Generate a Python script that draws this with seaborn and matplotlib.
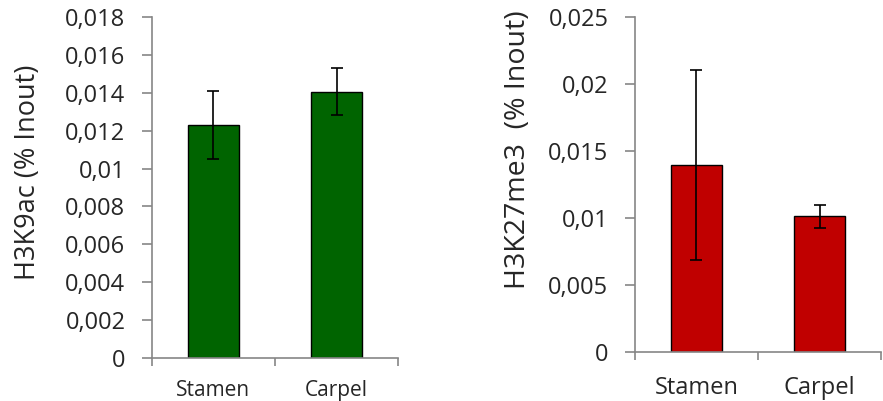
import matplotlib
matplotlib.use("Agg")
import matplotlib.pyplot as plt
import seaborn as sns
from matplotlib.ticker import FuncFormatter, FixedLocator

# data
samples = ["Stamen", "Carpel"]
h3k9ac = [0.0123, 0.01406]
h3k9ac_err = [0.0018, 0.00125]
h3k27me3 = [0.0140, 0.01015]
h3k27me3_err = [0.0071, 0.00085]

sns.set_style("white")
plt.rcParams['font.family'] = ['Open Sans', 'DejaVu Sans']

axis_grey = "#868686"

def comma_fmt(v, pos):
    if abs(v) < 1e-12:
        return "0"
    return f"{v:g}".replace(".", ",")

fig = plt.figure(figsize=(8.83, 4.01), dpi=100)
ax1 = fig.add_axes([0.172, 0.107, 0.279, 0.851])
ax2 = fig.add_axes([0.719, 0.1215, 0.279, 0.8355])

# ax, values, errors, colour, label, ymax, step, xtick size, xtick pad, label size, label y, label pad
panels = [
    (ax1, h3k9ac, h3k9ac_err, "#006400", "H3K9ac (% Inout)", 0.018, 0.002, 15, 16, 19.5, 0.545, 17),
    (ax2, h3k27me3, h3k27me3_err, "#C00000", "H3K27me3  (% Inout)", 0.025, 0.005, 17, 17, 20.5, 0.604, 12),
]

for ax, vals, errs, col, lab, ymax, step, xfs, xpad, lfs, ly, lpad in panels:
    sns.barplot(x=samples, y=vals, ax=ax, color=col, width=0.41,
                edgecolor="black", linewidth=1.0, saturation=1)
    ax.errorbar(range(len(samples)), vals, yerr=errs, fmt="none",
                ecolor="black", elinewidth=1.2, capsize=4, capthick=1.2)
    ax.set_xlim(-0.5, len(samples) - 0.5)
    ax.set_ylim(0, ymax)
    n = int(round(ymax / step))
    ax.yaxis.set_major_locator(FixedLocator([i * step for i in range(n + 1)]))
    ax.yaxis.set_major_formatter(FuncFormatter(comma_fmt))
    ax.xaxis.set_minor_locator(FixedLocator([-0.5, 0.5, 1.5]))
    for s in ["top", "right"]:
        ax.spines[s].set_visible(False)
    for s in ["left", "bottom"]:
        ax.spines[s].set_color(axis_grey)
        ax.spines[s].set_linewidth(1.2)
    ax.tick_params(axis="y", left=True, length=7, width=1.2, color=axis_grey,
                   labelsize=17, pad=12)
    ax.tick_params(axis="x", which="major", length=0, labelsize=xfs, pad=xpad)
    ax.tick_params(axis="x", which="minor", bottom=True, length=6, width=1.2,
                   color=axis_grey)
    ax.set_xlabel("")
    ax.set_ylabel(lab, fontsize=lfs, labelpad=lpad, y=ly)

fig.savefig("out.png", dpi=100)
